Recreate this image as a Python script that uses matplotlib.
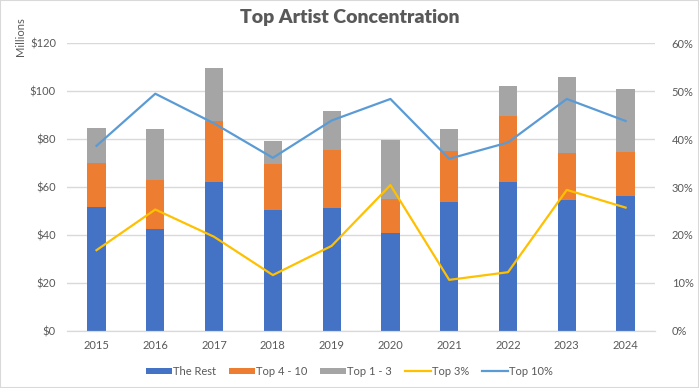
import matplotlib.pyplot as plt
from matplotlib.patches import Rectangle
from matplotlib.ticker import FuncFormatter

plt.rcParams['font.family'] = ['Lato', 'DejaVu Sans']

years = ['2015', '2016', '2017', '2018', '2019', '2020', '2021', '2022', '2023', '2024']
the_rest = [51.6, 42.4, 62.1, 50.4, 51.2, 40.8, 53.7, 62.1, 54.5, 56.2]
top_4_10 = [18.4, 20.5, 25.4, 19.1, 24.2, 14.1, 21.3, 27.5, 19.6, 18.4]
top_1_3 = [14.6, 21.3, 22.1, 9.6, 16.3, 24.7, 9.2, 12.5, 31.7, 26.2]
top_3_pct = [16.8, 25.3, 19.6, 11.6, 17.7, 30.4, 10.6, 12.2, 29.4, 25.7]
top_10_pct = [38.6, 49.5, 43.3, 36.1, 43.9, 48.4, 35.9, 39.3, 48.4, 43.8]

txt = '#595959'
grid = '#D9D9D9'

fig = plt.figure(figsize=(6.99, 3.88), dpi=100)
ax = fig.add_axes([0.096, 0.148, 0.841, 0.740])
ax2 = ax.twinx()

x = list(range(len(years)))
w = 0.31
b1 = ax.bar(x, the_rest, w, color='#4472C4', label='The Rest', zorder=2)
bottom2 = the_rest
b2 = ax.bar(x, top_4_10, w, bottom=bottom2, color='#ED7D31', label='Top 4 - 10', zorder=2)
bottom3 = [a + b for a, b in zip(the_rest, top_4_10)]
b3 = ax.bar(x, top_1_3, w, bottom=bottom3, color='#A5A5A5', label='Top 1 - 3', zorder=2)

l1, = ax2.plot(x, top_3_pct, color='#FFC000', lw=1.6, label='Top 3%')
l2, = ax2.plot(x, top_10_pct, color='#5B9BD5', lw=1.6, label='Top 10%')

ax.set_xlim(-0.5, len(years) - 0.5)
ax.set_ylim(0, 120)
ax.set_yticks(range(0, 121, 20))
ax.yaxis.set_major_formatter(FuncFormatter(lambda v, p: f'${v:.0f}'))
ax2.set_ylim(0, 60)
ax2.set_yticks(range(0, 61, 10))
ax2.yaxis.set_major_formatter(FuncFormatter(lambda v, p: f'{v:.0f}%'))
ax.set_xticks(x)
ax.set_xticklabels(years)

ax.yaxis.grid(True, color=grid, lw=1, zorder=0)
ax.set_axisbelow(True)
for a in (ax, ax2):
    for s in ('top', 'left', 'right'):
        a.spines[s].set_visible(False)
    a.spines['bottom'].set_color(grid)
    a.tick_params(length=0, labelsize=8, colors=txt)
ax.tick_params(axis='x', pad=7)
ax.tick_params(axis='y', pad=8)
ax2.tick_params(axis='y', pad=12)

fig.suptitle('Top Artist Concentration', x=0.5, y=0.977, fontsize=14,
             fontweight='heavy', color=txt)
fig.text(0.022, 0.955, 'Millions', rotation=90, ha='left', va='top', fontsize=8, color=txt)

fig.legend([b1, b2, b3, l1, l2], ['The Rest', 'Top 4 - 10', 'Top 1 - 3', 'Top 3%', 'Top 10%'],
           loc='center', bbox_to_anchor=(0.5, 0.043), ncol=5, frameon=False,
           fontsize=8, handlelength=2.3, handleheight=0.5, handletextpad=0.1,
           columnspacing=1.2, labelcolor=txt)

fig.patches.append(Rectangle((0, 0), 1, 1, transform=fig.transFigure, fill=False,
                             edgecolor=grid, lw=1.5))

fig.savefig('out.png', dpi=100)
